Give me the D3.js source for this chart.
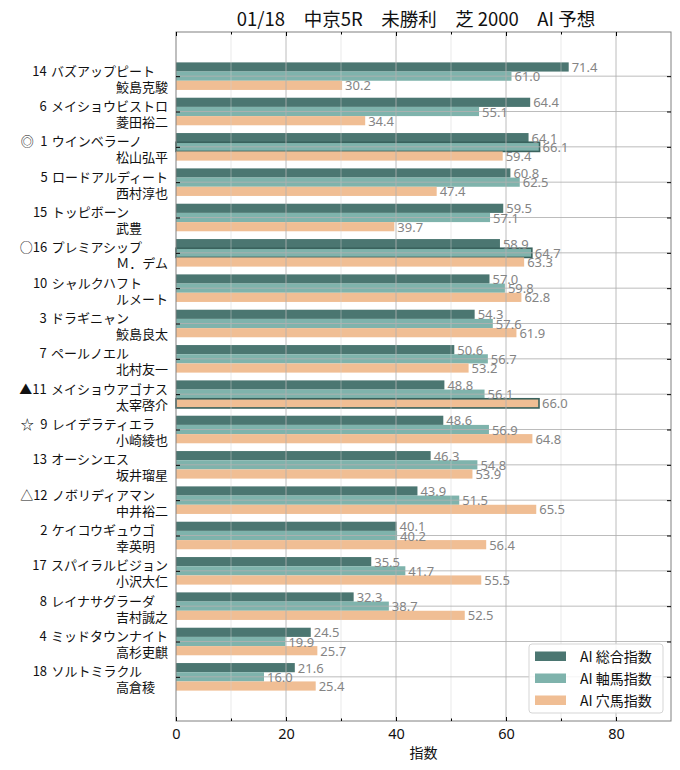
<!DOCTYPE html>
<html>
<head>
<meta charset="utf-8">
<script src="https://cdn.jsdelivr.net/npm/d3@7"></script>
<style>
  body { margin: 0; background: #fff; }
  text { font-family: "Noto Sans CJK JP", "Noto Sans", sans-serif; }
  .latin { font-family: "Noto Sans", "Noto Sans CJK JP", sans-serif; }
</style>
</head>
<body>
<script>
const marks = ["", "", "◎", "", "", "○", "", "", "", "▲", "☆", "", "△", "", "", "", "", ""];
const numbers = [14, 6, 1, 5, 15, 16, 10, 3, 7, 11, 9, 13, 12, 2, 17, 8, 4, 18];
const horses = ["バズアップピート", "メイショウビストロ", "ウインベラーノ", "ロードアルディート", "トッピボーン",
  "プレミアシップ", "シャルクハフト", "ドラギニャン", "ペールノエル", "メイショウアゴナス", "レイデラティエラ",
  "オーシンエス", "ノボリディアマン", "ケイコウギュウゴ", "スパイラルビジョン", "レイナサグラーダ",
  "ミッドタウンナイト", "ソルトミラクル"];
const jockeys = ["鮫島克駿", "菱田裕二", "松山弘平", "西村淳也", "武豊", "Ｍ．デム", "ルメート", "鮫島良太",
  "北村友一", "太宰啓介", "小崎綾也", "坂井瑠星", "中井裕二", "幸英明", "小沢大仁", "吉村誠之", "高杉吏麒", "高倉稜"];

const sogo = [71.4, 64.4, 64.1, 60.8, 59.5, 58.9, 57.0, 54.3, 50.6, 48.8, 48.6, 46.3, 43.9, 40.1, 35.5, 32.3, 24.5, 21.6];
const jiku = [61.0, 55.1, 66.1, 62.5, 57.1, 64.7, 59.8, 57.6, 56.7, 56.1, 56.9, 54.8, 51.5, 40.2, 41.7, 38.7, 19.9, 16.0];
const ana = [30.2, 34.4, 59.4, 47.4, 39.7, 63.3, 62.8, 61.9, 53.2, 66.0, 64.8, 53.9, 65.5, 56.4, 55.5, 52.5, 25.7, 25.4];

// outlined bars: [horse index, series index]
const highlights = [[2, 1], [5, 1], [9, 2]];

const seriesNames = ["AI 総合指数", "AI 軸馬指数", "AI 穴馬指数"];
const seriesColors = ["#4b7671", "#7fb3ac", "#f0be94"];
const xTicks = [0, 20, 40, 60, 80];
const title = "01/18\u3000中京5R\u3000未勝利\u3000芝 2000\u3000AI 予想";

const width = 680;
const height = 770;
const margin = { top: 32, right: 9, bottom: 49, left: 176 };

const svg = d3.select("body").append("svg")
  .attr("width", width)
  .attr("height", height);

const x = d3.scaleLinear().domain([0, 90]).range([margin.left, width - margin.right]);
const y = d3.scaleLinear().domain([-1.25, horses.length + 0.25]).range([margin.top, height - margin.bottom]);
const bw = 0.26;

const series = [sogo, jiku, ana];
const bars = [];
series.forEach((vals, s) => {
  vals.forEach((v, i) => {
    const hl = highlights.some((h) => h[0] === i && h[1] === s);
    bars.push({ i, s, v, hl });
  });
});

svg.append("g")
  .selectAll("rect")
  .data(bars)
  .enter()
  .append("rect")
  .attr("x", x(0))
  .attr("y", (d) => y(d.i + (d.s - 1) * bw - bw / 2))
  .attr("width", (d) => x(d.v) - x(0))
  .attr("height", y(bw) - y(0))
  .attr("fill", (d) => seriesColors[d.s])
  .attr("stroke", (d) => (d.hl ? "#3a625d" : "none"))
  .attr("stroke-width", 1.6);

// grid on top of the bars
const grid = svg.append("g");
grid.selectAll(".minor")
  .data([10, 30, 50, 70])
  .enter()
  .append("line")
  .attr("x1", (d) => x(d)).attr("x2", (d) => x(d))
  .attr("y1", margin.top).attr("y2", height - margin.bottom)
  .attr("stroke", "#d0d0d0").attr("stroke-opacity", 0.6).attr("stroke-width", 0.8);
grid.selectAll(".major")
  .data([20, 40, 60, 80])
  .enter()
  .append("line")
  .attr("x1", (d) => x(d)).attr("x2", (d) => x(d))
  .attr("y1", margin.top).attr("y2", height - margin.bottom)
  .attr("stroke", "#b0b0b0").attr("stroke-opacity", 0.85).attr("stroke-width", 1);
grid.selectAll(".hline")
  .data(horses.map((h, i) => i))
  .enter()
  .append("line")
  .attr("x1", margin.left).attr("x2", width - margin.right)
  .attr("y1", (d) => y(d)).attr("y2", (d) => y(d))
  .attr("stroke", "#b0b0b0").attr("stroke-opacity", 0.85).attr("stroke-width", 1);

// value labels
svg.append("g")
  .selectAll("text")
  .data(bars)
  .enter()
  .append("text")
  .attr("class", "latin")
  .attr("x", (d) => x(d.v) + 3)
  .attr("y", (d) => y(d.i + (d.s - 1) * bw))
  .attr("dominant-baseline", "central")
  .attr("font-size", "13px")
  .attr("fill", "#848484")
  .text((d) => d.v.toFixed(1));

// frame
svg.append("rect")
  .attr("x", margin.left).attr("y", margin.top)
  .attr("width", width - margin.right - margin.left)
  .attr("height", height - margin.bottom - margin.top)
  .attr("fill", "none").attr("stroke", "#808080").attr("stroke-width", 1);

// inward ticks
const xAxisBottom = d3.axisBottom(x).tickValues(xTicks).tickSizeInner(-4).tickSizeOuter(0).tickPadding(8);
const gx = svg.append("g")
  .attr("transform", `translate(0,${height - margin.bottom})`)
  .call(xAxisBottom);
gx.select(".domain").remove();
gx.selectAll("line").attr("stroke", "#000");
gx.selectAll("text").attr("class", "latin").attr("font-size", "14.5px").attr("fill", "#111");

const gxMinor = svg.append("g")
  .attr("transform", `translate(0,${height - margin.bottom})`)
  .call(d3.axisBottom(x).tickValues([10, 30, 50, 70]).tickSizeInner(-2.5).tickSizeOuter(0).tickFormat(""));
gxMinor.select(".domain").remove();

const gxTop = svg.append("g")
  .attr("transform", `translate(0,${margin.top})`)
  .call(d3.axisTop(x).tickValues(xTicks).tickSizeInner(-4).tickSizeOuter(0).tickFormat(""));
gxTop.select(".domain").remove();
const gxTopMinor = svg.append("g")
  .attr("transform", `translate(0,${margin.top})`)
  .call(d3.axisTop(x).tickValues([10, 30, 50, 70]).tickSizeInner(-2.5).tickSizeOuter(0).tickFormat(""));
gxTopMinor.select(".domain").remove();

const idx = horses.map((h, i) => i);
const gyLeft = svg.append("g")
  .attr("transform", `translate(${margin.left},0)`)
  .call(d3.axisLeft(y).tickValues(idx).tickSizeInner(-4).tickSizeOuter(0).tickFormat(""));
gyLeft.select(".domain").remove();
const gyRight = svg.append("g")
  .attr("transform", `translate(${width - margin.right},0)`)
  .call(d3.axisRight(y).tickValues(idx).tickSizeInner(-4).tickSizeOuter(0).tickFormat(""));
gyRight.select(".domain").remove();

// two-line category labels (digit padding as en space, separator a bit wider than a plain space)
const sp = "\u2002";
const sep = "\u2004";
const fw = "\u3000";
const horseLine = (i) => {
  const head = marks[i] ? marks[i] + String(numbers[i]).padStart(2, sp) : fw + String(numbers[i]);
  return head + sep + horses[i] + fw.repeat(9 - horses[i].length);
};
const labels = svg.append("g")
  .selectAll("text")
  .data(idx)
  .enter()
  .append("text")
  .attr("text-anchor", "end")
  .attr("font-size", "13px")
  .attr("fill", "#111")
  .style("white-space", "pre");
labels.append("tspan")
  .attr("x", margin.left - 8)
  .attr("y", (i) => y(i) - 6)
  .attr("dominant-baseline", "central")
  .text(horseLine);
labels.append("tspan")
  .attr("x", margin.left - 8)
  .attr("y", (i) => y(i) + 10)
  .attr("dominant-baseline", "central")
  .text((i) => jockeys[i] + fw.repeat(4 - jockeys[i].length));

// title and axis label
svg.append("text")
  .attr("x", 416).attr("y", 18)
  .attr("text-anchor", "middle")
  .attr("dominant-baseline", "central")
  .attr("font-size", "18.5px")
  .attr("fill", "#111")
  .style("white-space", "pre")
  .text(title);

svg.append("text")
  .attr("x", (x(0) + x(90)) / 2).attr("y", 752)
  .attr("text-anchor", "middle")
  .attr("dominant-baseline", "central")
  .attr("font-size", "14px")
  .attr("fill", "#111")
  .text("指数");

// legend
const lg = svg.append("g").attr("transform", "translate(529,644)");
lg.append("rect")
  .attr("width", 134).attr("height", 69).attr("rx", 3)
  .attr("fill", "#fff").attr("fill-opacity", 0.85)
  .attr("stroke", "#d5d5d5");
const items = lg.selectAll(".item")
  .data(seriesNames)
  .enter()
  .append("g")
  .attr("transform", (d, k) => `translate(0,${12 + k * 22})`);
items.append("rect")
  .attr("x", 6).attr("y", -4.5).attr("width", 31).attr("height", 9.5)
  .attr("fill", (d, k) => seriesColors[k]);
items.append("text")
  .attr("x", 51).attr("y", 0)
  .attr("dominant-baseline", "central")
  .attr("font-size", "14px")
  .attr("fill", "#111")
  .text((d) => d);
</script>
</body>
</html>
